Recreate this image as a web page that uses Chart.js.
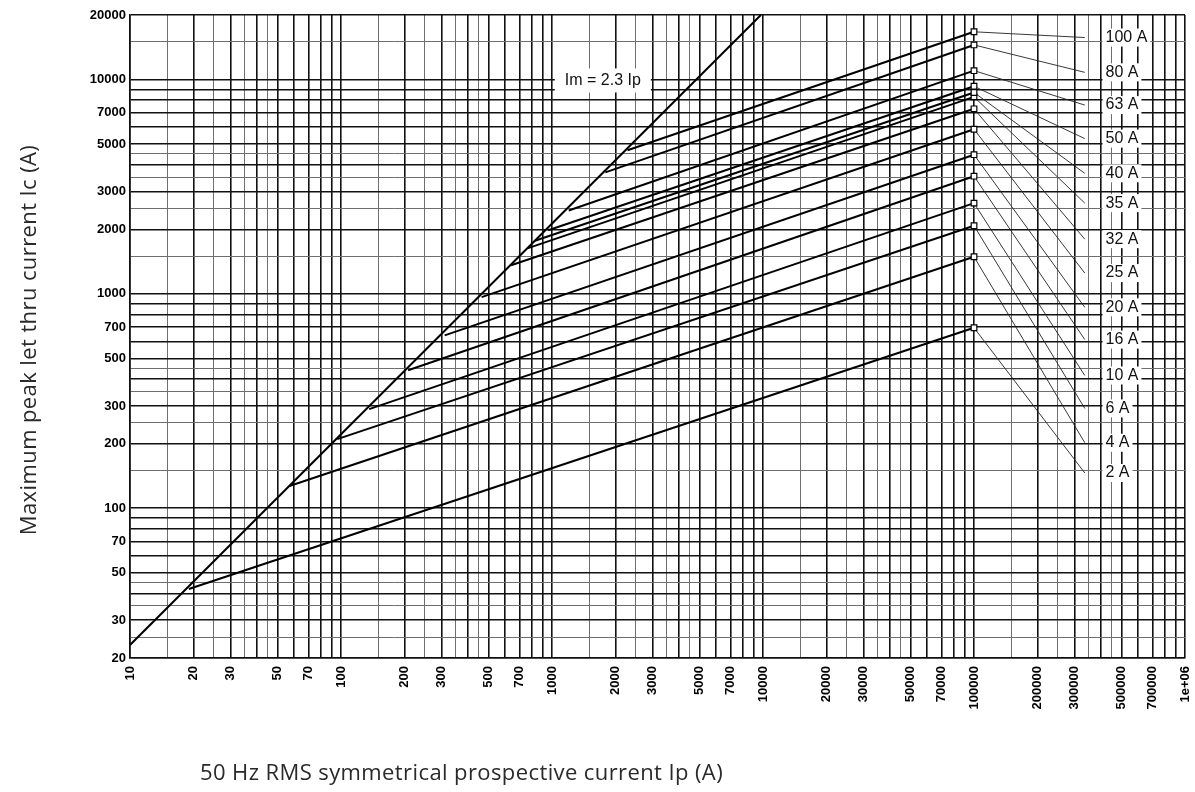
<!DOCTYPE html>
<html>
<head>
<meta charset="utf-8">
<script src="https://cdn.jsdelivr.net/npm/chart.js@4.4.1/dist/chart.umd.min.js"></script>
<style>
  html, body { margin: 0; padding: 0; background: #fff; }
</style>
</head>
<body>
<canvas id="chart" width="1195" height="792"></canvas>
<script>
// Fuse ratings, in the order of the labels on the right (top to bottom)
const ratings = ['100 A', '80 A', '63 A', '50 A', '40 A', '35 A', '32 A', '25 A', '20 A', '16 A', '10 A', '6 A', '4 A', '2 A'];

// Point where each curve leaves the Im = 2.3 Ip line
const startIp = [2280, 1790, 1200, 960, 830, 764, 640, 464, 310, 208, 136, 96, 57, 19];
const startIc = [4680, 3690, 2450, 1980, 1770, 1630, 1360, 966, 640, 440, 290, 210, 127, 42];

// Value at 100 kA (square marker)
const endIp = 100000;
const endIc = [16700, 14500, 11000, 9300, 8700, 8300, 7300, 5860, 4460, 3540, 2650, 2080, 1490, 695];

// Leader lines from the marker to the rating label
const leaderIp = 335000;
const labelIp = 420000;
const labelIc = [15700, 10800, 7600, 5300, 3650, 2650, 1800, 1250, 865, 612, 416, 292, 202, 146];

// The unlimited peak line
const imIp = [10, 9770];
const imIc = [23, 20000];
const imText = 'Im = 2.3 Ip';
const imTextIp = 1150;
const imTextIc = 9900;

// Axis tick labels
const xLabels = [10, 20, 30, 50, 70, 100, 200, 300, 500, 700, 1000, 2000, 3000, 5000, 7000,
  10000, 20000, 30000, 50000, 70000, 100000, 200000, 300000, 500000, 700000, 1000000];
const yLabels = [20, 30, 50, 70, 100, 200, 300, 500, 700, 1000, 2000, 3000, 5000, 7000, 10000, 20000];

// Log paper grid: these mantissas in every decade
const mantissas = [1, 1.5, 2, 2.5, 3, 3.5, 4, 4.5, 5, 6, 7, 8, 9];

const gridValues = (min, max) => {
    const out = [];
    for (let e = Math.floor(Math.log10(min)); e <= Math.ceil(Math.log10(max)); e++) {
        mantissas.forEach(m => {
            const v = Math.round(m * Math.pow(10, e));
            if (v >= min && v <= max) out.push(v);
        });
    }
    return out;
};

const isHalf = (v) => {
    const m = v / Math.pow(10, Math.floor(Math.log10(v)));
    return Math.round(m * 10) % 10 === 5;
};

const tickFont = { family: '"Liberation Sans", Arial, sans-serif', size: 13, weight: 'bold' };

const gridOpts = {
    drawTicks: false,
    color: (c) => (c.tick && isHalf(c.tick.value)) ? '#6e6e6e' : '#111',
    lineWidth: (c) => (c.tick && isHalf(c.tick.value)) ? 1 : 1.6
};

// Build datasets
const datasets = [{
    data: imIp.map((x, i) => ({ x: x, y: imIc[i] })),
    borderColor: '#000',
    borderWidth: 2,
    pointRadius: 0,
    order: 1
}];

ratings.forEach((r, i) => {
    datasets.push({
        label: r,
        data: [{ x: startIp[i], y: startIc[i] }, { x: endIp, y: endIc[i] }],
        borderColor: '#000',
        borderWidth: 2,
        pointRadius: [0, 4],
        pointStyle: 'rect',
        pointBackgroundColor: '#fff',
        pointBorderColor: '#000',
        pointBorderWidth: 1.2,
        order: 1
    });
    datasets.push({
        data: [{ x: endIp, y: endIc[i] }, { x: leaderIp, y: labelIc[i] }],
        borderColor: '#222',
        borderWidth: 0.9,
        pointRadius: 0,
        order: 2
    });
});

// Rating labels, Im label and the axis titles
const textPlugin = {
    id: 'texts',
    afterDatasetsDraw(chart) {
        const { ctx, scales: { x, y } } = chart;
        ctx.save();
        ctx.textBaseline = 'middle';
        ctx.textAlign = 'left';

        ctx.font = '16px "Liberation Sans", Arial, sans-serif';
        ratings.forEach((r, i) => {
            const px = x.getPixelForValue(labelIp);
            const py = y.getPixelForValue(labelIc[i]);
            const w = ctx.measureText(r).width;
            ctx.fillStyle = '#fff';
            ctx.fillRect(px - 3, py - 9, w + 6, 18);
            ctx.fillStyle = '#111';
            ctx.fillText(r, px, py);
        });

        const ix = x.getPixelForValue(imTextIp);
        const iy = y.getPixelForValue(imTextIc);
        const iw = ctx.measureText(imText).width;
        ctx.fillStyle = '#fff';
        ctx.fillRect(ix - 10, iy - 12, iw + 20, 24);
        ctx.fillStyle = '#111';
        ctx.fillText(imText, ix, iy);
        ctx.restore();
    },
    afterDraw(chart) {
        const { ctx } = chart;
        ctx.save();
        ctx.fillStyle = '#2a2a2a';
        ctx.font = '22px "Open Sans", sans-serif';
        ctx.letterSpacing = '0.4px';
        ctx.textBaseline = 'middle';
        ctx.textAlign = 'left';
        ctx.fillText('50 Hz RMS symmetrical prospective current Ip (A)', 200, 774);

        ctx.translate(30, 340);
        ctx.rotate(-Math.PI / 2);
        ctx.textAlign = 'center';
        ctx.fillText('Maximum peak let thru current Ic (A)', 0, 0);
        ctx.restore();
    }
};

const fmt = (v) => v === 1000000 ? '1e+06' : String(v);

new Chart(document.getElementById('chart').getContext('2d'), {
    type: 'scatter',
    data: { datasets: datasets },
    options: {
        responsive: false,
        animation: false,
        devicePixelRatio: 1,
        showLine: true,
        layout: { padding: { top: 15, right: 10, left: 0, bottom: 0 } },
        plugins: {
            legend: { display: false },
            tooltip: { enabled: false }
        },
        scales: {
            x: {
                type: 'logarithmic',
                min: 10,
                max: 1000000,
                afterBuildTicks: (s) => { s.ticks = gridValues(10, 1000000).map(v => ({ value: v })); },
                afterFit: (s) => { s.height = 134; s.paddingLeft = 0; s.paddingRight = 0; },
                ticks: {
                    autoSkip: false,
                    minRotation: 90,
                    maxRotation: 90,
                    padding: 8,
                    color: '#000',
                    font: tickFont,
                    callback: (v) => xLabels.includes(v) ? fmt(v) : ''
                },
                grid: gridOpts,
                border: { color: '#111', width: 1.6 }
            },
            y: {
                type: 'logarithmic',
                min: 20,
                max: 20000,
                afterBuildTicks: (s) => { s.ticks = gridValues(20, 20000).map(v => ({ value: v })); },
                afterFit: (s) => { s.width = 130; s.paddingTop = 0; s.paddingBottom = 0; },
                ticks: {
                    autoSkip: false,
                    padding: 4,
                    color: '#000',
                    font: tickFont,
                    callback: (v) => yLabels.includes(v) ? fmt(v) : ''
                },
                grid: gridOpts,
                border: { color: '#111', width: 1.6 }
            }
        }
    },
    plugins: [textPlugin]
});
</script>
</body>
</html>
